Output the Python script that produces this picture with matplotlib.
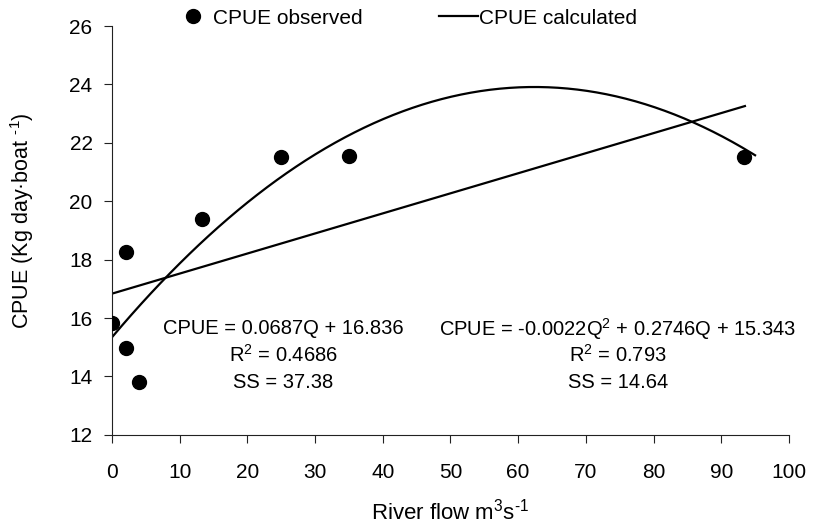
import numpy as np
import matplotlib.pyplot as plt

plt.rcParams['font.family'] = ['Liberation Sans', 'DejaVu Sans']
plt.rcParams['mathtext.fontset'] = 'custom'
plt.rcParams['mathtext.rm'] = 'Liberation Sans'
plt.rcParams['mathtext.it'] = 'Liberation Sans'

## observed CPUE vs river flow
flow = [0, 2, 2, 4, 13.3, 25, 35, 93.4]
cpue = [15.83, 18.25, 14.97, 13.8, 19.4, 21.52, 21.55, 21.5]

## fitted models (coefficients from the chart)
lin_coef = [0.0687, 16.836]
quad_coef = [-0.0022, 0.2746, 15.343]
lin_range = [0, 93.5]
quad_range = [0, 95]

fig = plt.figure(figsize=(8.15, 5.31), dpi=100)
ax = fig.add_axes([0.1374, 0.181, 0.8306, 0.770])

ax.plot(flow, cpue, 'o', color='black', markersize=10, label='CPUE observed', zorder=3)

xl = np.array(lin_range)
ax.plot(xl, np.polyval(lin_coef, xl), color='black', lw=1.6, label='CPUE calculated')
xq = np.linspace(quad_range[0], quad_range[1], 200)
ax.plot(xq, np.polyval(quad_coef, xq), color='black', lw=1.6)

ax.set_xlim(0, 100)
ax.set_ylim(12, 26)
ax.set_xticks(range(0, 101, 10))
ax.set_yticks(range(12, 27, 2))
for s in ['top', 'right']:
    ax.spines[s].set_visible(False)
for s in ['left', 'bottom']:
    ax.spines[s].set_color('#222222')
ax.tick_params(direction='out', length=6, labelsize=15, color='#222222')
ax.tick_params(axis='x', pad=14)
ax.tick_params(axis='y', pad=8)

ax.set_xlabel('River flow m$^3$s$^{\\text{-}1}$', fontsize=16, labelpad=12)
ax.set_ylabel('CPUE (Kg day·boat $^{\\text{-}1}$)', fontsize=15.5)
ax.yaxis.set_label_coords(-0.112, 0.525)

fs = 14.5
ax.text(25.3, 15.63, 'CPUE = 0.0687Q + 16.836', ha='center', va='center', fontsize=fs)
ax.text(25.3, 14.74, 'R$^2$ = 0.4686', ha='center', va='center', fontsize=fs)
ax.text(25.3, 13.78, 'SS = 37.38', ha='center', va='center', fontsize=fs)
ax.text(74.7, 15.63, 'CPUE = -0.0022Q$^2$ + 0.2746Q + 15.343', ha='center', va='center', fontsize=fs)
ax.text(74.7, 14.74, 'R$^2$ = 0.793', ha='center', va='center', fontsize=fs)
ax.text(74.7, 13.78, 'SS = 14.64', ha='center', va='center', fontsize=fs)

fig.legend(loc='center', bbox_to_anchor=(0.497, 0.966), ncol=2, frameon=False,
           fontsize=15, handlelength=1.83, handletextpad=0.05, columnspacing=3.7)

fig.savefig('out.png', dpi=100)
